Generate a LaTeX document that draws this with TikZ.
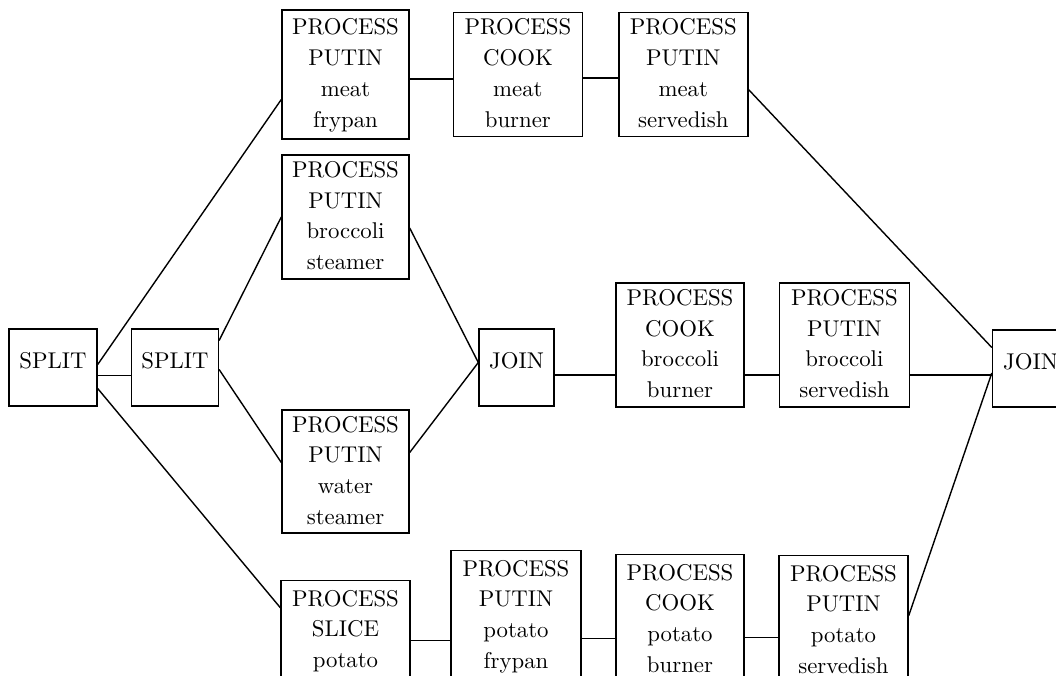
\documentclass[tikz,border=0pt]{standalone}
\usepackage{fontspec}
\setmainfont{lmroman10-regular.otf}
\usepackage{tikz}
\usetikzlibrary{positioning}

\begin{document}
\begin{tikzpicture}[x=1pt,y=-1pt,line width=1.4pt,node distance=33pt]
          \tikzstyle{every node}=[font=\fontsize{22.8}{30.7}\selectfont]
          \tikzstyle{ctrl}=[draw,inner sep=0pt,minimum height=77pt,text height=16pt,text depth=14pt]
          \tikzstyle{proc}=[draw,inner sep=0pt,align=center,text width=128pt,minimum height=124pt,text height=16pt,text depth=95pt]
          \tikzstyle{cut}=[proc,anchor=north,minimum height=130pt]
          \useasboundingbox (0,0) rectangle (1056,676);
          \clip (0,0) rectangle (1056,676);
          % split and join
          \node[ctrl,minimum width=88pt]          (S1) at (53,367.5)    {SPLIT};
          \node[ctrl,minimum width=87pt]          (S2) [right=of S1]    {SPLIT};
          \node[ctrl,minimum width=75pt]          (J1) at (516.5,367.5) {JOIN};
          \node[ctrl,minimum width=76pt]          (J2) at (1030.5,368.5) {JOIN};
          % meat
          \node[proc,text width=127pt,minimum height=129pt] (PMF) at (345.5,74.5) {PROCESS\\PUTIN\\meat\\frypan};
          \node[proc,text width=129pt]            (CMB) [right=43pt of PMF] {PROCESS\\COOK\\meat\\burner};
          \node[proc,text width=129pt]            (PMS) [right=35pt of CMB] {PROCESS\\PUTIN\\meat\\servedish};
          % broccoli and water
          \node[proc,text width=127pt]            (PBS) at (345.5,217)   {PROCESS\\PUTIN\\broccoli\\steamer};
          \node[proc,text width=127pt,minimum height=123pt] (PWS) at (345.5,471.5) {PROCESS\\PUTIN\\water\\steamer};
          \node[proc]                             (CBB) at (680,345)     {PROCESS\\COOK\\broccoli\\burner};
          \node[proc,text width=130pt]            (PBD) [right=34pt of CBB] {PROCESS\\PUTIN\\broccoli\\servedish};
          % potato
          \node[cut,text width=129pt]             (SP)  at (345.5,580)   {PROCESS\\SLICE\\potato};
          \node[cut,text width=130pt]             (PPF) at (516,550)     {PROCESS\\PUTIN\\potato\\frypan};
          \node[cut]                              (CPB) at (680,554)     {PROCESS\\COOK\\potato\\burner};
          \node[cut,text width=129pt]             (PPS) at (843.5,555)   {PROCESS\\PUTIN\\potato\\servedish};
          \path
          ([yshift=3pt]S1.east) edge ([yshift=-25pt]PMF.west)
          ([yshift=-8pt]S1.east) edge ([yshift=-8pt]S2.west)
          ([yshift=-21pt]S1.east) edge ([yshift=38pt]SP.west)
          ([yshift=27pt]S2.east) edge (PBS.west)
          ([yshift=-2pt]S2.east) edge ([yshift=9pt]PWS.west)
          ([yshift=-11pt]PBS.east) edge ([yshift=5pt]J1.west)
          ([yshift=19pt]PWS.east) edge ([yshift=5pt]J1.west)
          ([yshift=-7.5pt]J1.east) edge ([yshift=-30pt]CBB.west)
          ([yshift=-30pt]CBB.east) edge ([yshift=-30pt]PBD.west)
          ([yshift=-30pt]PBD.east) edge ([yshift=-6.5pt]J2.west)
          ([yshift=-4.5pt]PMF.east) edge ([yshift=-4.5pt]CMB.west)
          ([yshift=-3.5pt]CMB.east) edge ([yshift=-3.5pt]PMS.west)
          ([yshift=-15pt]PMS.east) edge ([yshift=21pt]J2.west)
          ([yshift=5pt]SP.east) edge ([yshift=-25pt]PPF.west)
          ([yshift=-23pt]PPF.east) edge ([yshift=-19pt]CPB.west)
          ([yshift=-18pt]CPB.east) edge ([yshift=-17pt]PPS.west)
          ([yshift=5pt]PPS.east) edge ([yshift=-4.5pt]J2.west);
        \end{tikzpicture}
\end{document}
